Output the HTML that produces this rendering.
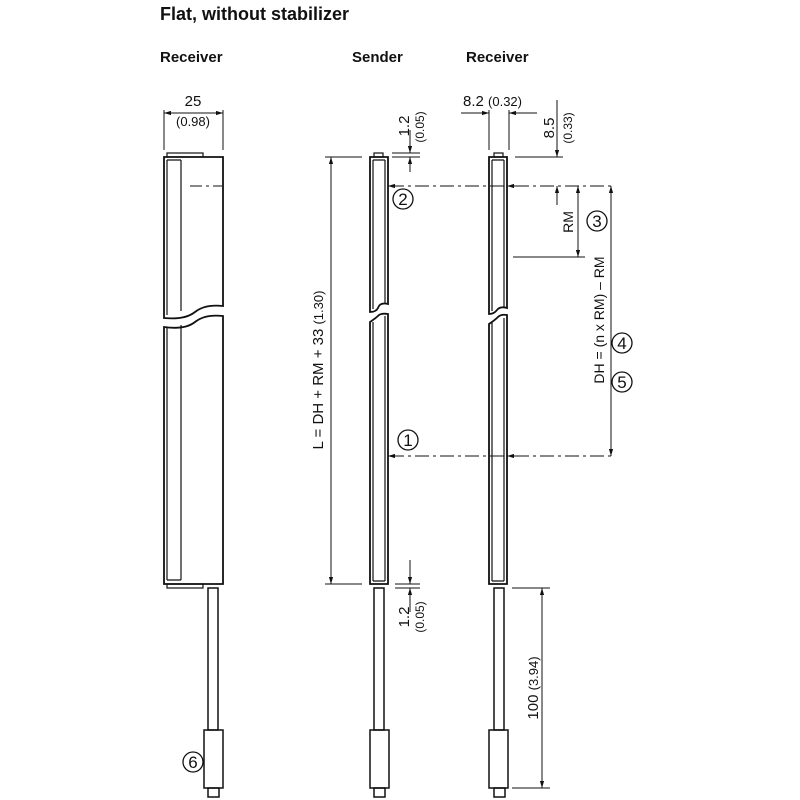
<!DOCTYPE html>
<html><head><style>body{margin:0;background:#fff}svg{display:block}</style></head><body>
<svg width="800" height="800" viewBox="0 0 800 800" xmlns="http://www.w3.org/2000/svg" font-family="Liberation Sans, sans-serif">
<defs><marker id="a" viewBox="0 0 10 10" refX="10" refY="5" markerWidth="7" markerHeight="7" orient="auto-start-reverse"><path d="M0,2 L10,5 L0,8z" fill="#111"/></marker></defs>
<g fill="#111">
<text x="160" y="20" font-size="18" font-weight="bold">Flat, without stabilizer</text>
<text x="160" y="62" font-size="15" font-weight="bold">Receiver</text>
<text x="352" y="62" font-size="15" font-weight="bold">Sender</text>
<text x="466" y="62" font-size="15" font-weight="bold">Receiver</text>
</g>
<g stroke="#111" fill="none" stroke-width="1.8">
<rect x="167" y="153" width="36" height="4" stroke-width="1.2"/>
<path d="M164,157 H223 V306 Q205,304 195,312 Q185,320 164,318 Z" fill="#fff"/>
<path d="M164,327 Q185,330 195,322 Q205,314 223,316 V584 H164 Z" fill="#fff"/>
<path d="M181,160 V311 M181,325 V580 M167,160 V315 M167,328 V580 M167,160 H181 M167,580 H181" stroke-width="1.2"/>
<rect x="167" y="584" width="36" height="4" stroke-width="1.2"/>
<rect x="208" y="588" width="10" height="142" stroke-width="1.5"/>
<rect x="204" y="730" width="19" height="58" stroke-width="1.5"/>
<rect x="208" y="788" width="11" height="9" stroke-width="1.5"/>
<rect x="374" y="153" width="9" height="4" stroke-width="1.2"/>
<path d="M370,157 H388 V304 Q380,302 378,308 Q376,312 370,312 Z"/>
<path d="M370,322 Q376,318 379,315 Q382,313 388,314 V584 H370 Z"/>
<path d="M373,160 V309 M385,160 V304 M373,322 V581 M385,316 V581 M373,160 H385 M373,581 H385" stroke-width="1.2"/>
<rect x="374" y="588" width="10" height="142" stroke-width="1.5"/>
<rect x="370" y="730" width="19" height="58" stroke-width="1.5"/>
<rect x="374" y="788" width="11" height="9" stroke-width="1.5"/>
<rect x="494" y="153" width="9" height="4" stroke-width="1.2"/>
<path d="M489,157 H507 V308 Q500,306 497,310 Q494,314 489,314 Z"/>
<path d="M489,324 Q495,320 498,317 Q501,314 507,315 V584 H489 Z"/>
<path d="M492,160 V311 M504,160 V308 M492,322 V581 M504,318 V581 M492,160 H504 M492,581 H504" stroke-width="1.2"/>
<rect x="494" y="588" width="10" height="142" stroke-width="1.5"/>
<rect x="489" y="730" width="19" height="58" stroke-width="1.5"/>
<rect x="494" y="788" width="11" height="9" stroke-width="1.5"/>
</g>
<g stroke="#111" fill="none" stroke-width="1">
<path d="M164,150 V110 M223,150 V110"/>
<path d="M164,113 H223" marker-start="url(#a)" marker-end="url(#a)"/>
<path d="M190,186 H222" stroke-dasharray="12,4,3,4"/>
<path d="M390,186 H615" stroke-dasharray="14,4,3,4"/>
<path d="M400,186 H388" marker-end="url(#a)"/>
<path d="M519,186 H507" marker-end="url(#a)"/>
<path d="M390,456 H615" stroke-dasharray="14,4,3,4"/>
<path d="M400,456 H388" marker-end="url(#a)"/>
<path d="M519,456 H507" marker-end="url(#a)"/>
<path d="M325,157 H362 M325,584 H362"/>
<path d="M331,157 V584" marker-start="url(#a)" marker-end="url(#a)"/>
<path d="M392,153 H420 M392,157 H420"/>
<path d="M410,130 V153" marker-end="url(#a)"/>
<path d="M410,172 V157" marker-end="url(#a)"/>
<path d="M395,584 H420 M395,588 H420"/>
<path d="M410,560 V584" marker-end="url(#a)"/>
<path d="M410,612 V588" marker-end="url(#a)"/>
<path d="M489,150 V110 M509,150 V110"/>
<path d="M461,113 H489" marker-end="url(#a)"/>
<path d="M537,113 H509" marker-end="url(#a)"/>
<path d="M515,157 H563"/>
<path d="M557,100 V157" marker-end="url(#a)"/>
<path d="M557,205 V186" marker-end="url(#a)"/>
<path d="M513,257 H585"/>
<path d="M578,186 V257" marker-start="url(#a)" marker-end="url(#a)"/>
<path d="M611,186 V456" marker-start="url(#a)" marker-end="url(#a)"/>
<path d="M512,588 H550 M512,788 H550"/>
<path d="M542,588 V788" marker-start="url(#a)" marker-end="url(#a)"/>
</g>
<g fill="#111" font-size="14">
<text x="193" y="106" text-anchor="middle" font-size="15">25</text>
<text x="193" y="126" text-anchor="middle" font-size="13">(0.98)</text>
<text x="463" y="106" font-size="15">8.2 <tspan font-size="13">(0.32)</tspan></text>
<text transform="translate(323,370) rotate(-90)" text-anchor="middle" font-size="15">L = DH + RM + 33 <tspan font-size="13">(1.30)</tspan></text>
<text transform="translate(409,126) rotate(-90)" text-anchor="middle" font-size="15">1.2</text>
<text transform="translate(424,127) rotate(-90)" text-anchor="middle" font-size="12">(0.05)</text>
<text transform="translate(409,617) rotate(-90)" text-anchor="middle" font-size="15">1.2</text>
<text transform="translate(424,617) rotate(-90)" text-anchor="middle" font-size="12">(0.05)</text>
<text transform="translate(554,128) rotate(-90)" text-anchor="middle" font-size="15">8.5</text>
<text transform="translate(572,128) rotate(-90)" text-anchor="middle" font-size="12">(0.33)</text>
<text transform="translate(573,222) rotate(-90)" text-anchor="middle" font-size="14">RM</text>
<text transform="translate(604,320) rotate(-90)" text-anchor="middle" font-size="14">DH = (n x RM) – RM</text>
<text transform="translate(538,688) rotate(-90)" text-anchor="middle" font-size="15">100 <tspan font-size="13">(3.94)</tspan></text>
</g>
<g stroke="#111" fill="none" stroke-width="1.3">
<circle cx="403" cy="199" r="10"/><circle cx="408" cy="440" r="10"/>
<circle cx="597" cy="221" r="10"/><circle cx="622" cy="343" r="10"/>
<circle cx="622" cy="382" r="10"/><circle cx="193" cy="762" r="10"/>
</g>
<g fill="#111" font-size="17" text-anchor="middle">
<text x="403" y="205">2</text><text x="408" y="446">1</text>
<text x="597" y="227">3</text><text x="622" y="349">4</text>
<text x="622" y="388">5</text><text x="193" y="768">6</text>
</g>
</svg>
</body></html>
